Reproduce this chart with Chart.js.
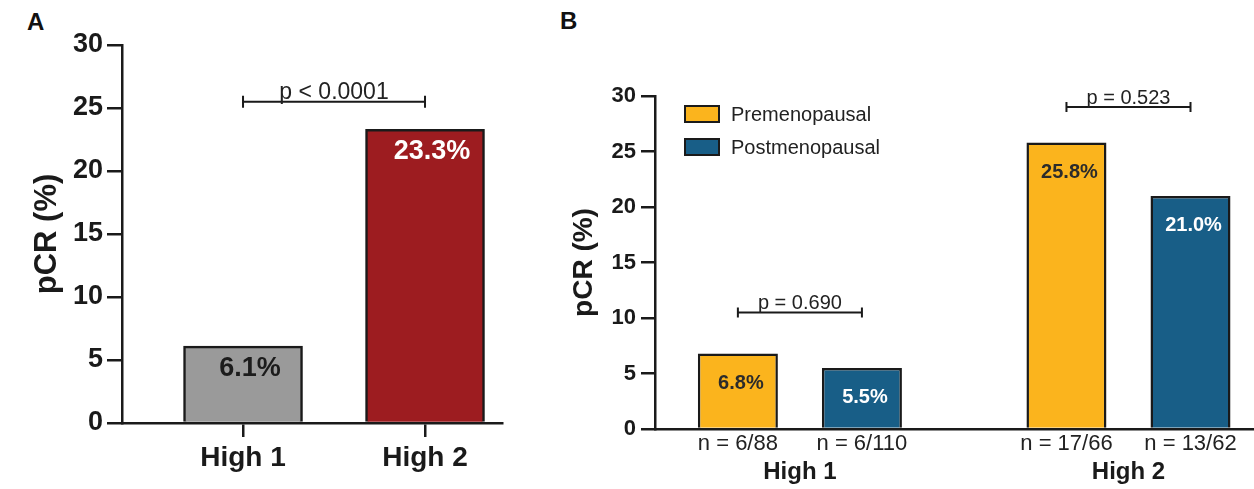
<!DOCTYPE html>
<html>
<head>
<meta charset="utf-8">
<script src="https://cdn.jsdelivr.net/npm/chart.js@4.4.1/dist/chart.umd.min.js"></script>
<style>
  body { margin: 0; background: #fff; width: 1254px; height: 489px; overflow: hidden; position: relative; font-family: "Liberation Sans", Arial, sans-serif; }
  .tag { position: absolute; font-weight: bold; font-size: 24px; line-height: 24px; color: #111; }
  canvas { position: absolute; top: 0; }
</style>
</head>
<body>
<div class="tag" style="left:27px;top:10px">A</div>
<div class="tag" style="left:560px;top:9px">B</div>
<canvas id="chartA" width="540" height="489" style="left:0"></canvas>
<canvas id="chartB" width="714" height="489" style="left:540px"></canvas>
<script>
// data
var groups = ['High 1', 'High 2'];
var pcrAll = [6.1, 23.3];
var pAll = ['p < 0.0001'];
var pAllLevel = [25.5];

var pcrPre = [6.8, 25.8];
var pcrPost = [5.5, 21.0];
var nPre = ['6/88', '17/66'];
var nPost = ['6/110', '13/62'];
var pMeno = ['p = 0.690', 'p = 0.523'];
var pMenoLevel = [10.5, 29];

var FONT = '"Liberation Sans", Arial, sans-serif';
var INK = '#1a1a1a';
Chart.defaults.font.family = FONT;
Chart.defaults.color = INK;

function points(arr) {
  return arr.map(function(v, i) { return {x: i + 1, y: v}; });
}

// value text inside the bars
function makeBarText(colors, font, dx, dy) {
  return {
    id: 'barText',
    afterDatasetsDraw: function(chart) {
      var ctx = chart.ctx;
      ctx.save();
      ctx.font = font;
      ctx.textAlign = 'center';
      ctx.textBaseline = 'middle';
      chart.data.datasets.forEach(function(ds, i) {
        chart.getDatasetMeta(i).data.forEach(function(bar, j) {
          ctx.fillStyle = colors[i][j];
          ctx.fillText(ds.data[j].y.toFixed(1) + '%', bar.x + dx, bar.y + dy);
        });
      });
      ctx.restore();
    }
  };
}

// p value brackets between two bars
function makeBrackets(pairs, texts, levels, font, cap) {
  return {
    id: 'brackets',
    afterDatasetsDraw: function(chart) {
      var ctx = chart.ctx;
      var ys = chart.scales.y;
      ctx.save();
      ctx.strokeStyle = INK;
      ctx.fillStyle = '#222';
      ctx.lineWidth = 2;
      ctx.font = font;
      ctx.textAlign = 'center';
      ctx.textBaseline = 'alphabetic';
      pairs.forEach(function(p, k) {
        var a = chart.getDatasetMeta(p[0][0]).data[p[0][1]];
        var b = chart.getDatasetMeta(p[1][0]).data[p[1][1]];
        var py = ys.getPixelForValue(levels[k]);
        ctx.beginPath();
        ctx.moveTo(a.x, py); ctx.lineTo(b.x, py);
        ctx.moveTo(a.x, py - cap); ctx.lineTo(a.x, py + cap);
        ctx.moveTo(b.x, py - cap); ctx.lineTo(b.x, py + cap);
        ctx.stroke();
        ctx.fillText(texts[k], (a.x + b.x) / 2, py - 3);
      });
      ctx.restore();
    }
  };
}

var nLabels = {
  id: 'nLabels',
  afterDraw: function(chart) {
    var ctx = chart.ctx;
    var ns = [nPre, nPost];
    ctx.save();
    ctx.font = '22px ' + FONT;
    ctx.fillStyle = '#222';
    ctx.textAlign = 'center';
    ctx.textBaseline = 'middle';
    chart.data.datasets.forEach(function(ds, i) {
      chart.getDatasetMeta(i).data.forEach(function(bar, j) {
        ctx.fillText('n = ' + ns[i][j], bar.x, chart.chartArea.bottom + 15);
      });
    });
    ctx.restore();
  }
};

var legendBox = {
  id: 'legendBox',
  afterDraw: function(chart) {
    var ctx = chart.ctx;
    var area = chart.chartArea;
    ctx.save();
    ctx.font = '20px ' + FONT;
    ctx.textBaseline = 'middle';
    ctx.textAlign = 'left';
    chart.data.datasets.forEach(function(ds, i) {
      var x = area.left + 30;
      var yc = area.top + 18 + i * 33;
      ctx.fillStyle = ds.backgroundColor;
      ctx.fillRect(x, yc - 8, 34, 16);
      ctx.lineWidth = 2;
      ctx.strokeStyle = INK;
      ctx.strokeRect(x, yc - 8, 34, 16);
      ctx.fillStyle = '#222';
      ctx.fillText(ds.label, x + 46, yc + 1);
    });
    ctx.restore();
  }
};

function groupTicks(s) {
  s.ticks = groups.map(function(g, i) { return {value: i + 1}; });
}

// panel A
new Chart(document.getElementById('chartA'), {
  type: 'bar',
  data: {
    datasets: [{
      data: points(pcrAll),
      backgroundColor: ['#9a9a9a', '#9d1c20'],
      borderColor: INK,
      borderWidth: 2.5,
      borderSkipped: 'start',
      barThickness: 119
    }]
  },
  options: {
    responsive: false,
    animation: false,
    layout: {padding: {left: 0, top: 45, right: 38, bottom: 0}},
    plugins: {legend: {display: false}, tooltip: {enabled: false}},
    scales: {
      x: {
        type: 'linear', min: 0.335, max: 2.423, offset: false, z: 1,
        afterBuildTicks: groupTicks,
        afterFit: function(s) { s.height = 66; },
        ticks: {
          callback: function(v) { return groups[v - 1]; },
          font: {size: 28, weight: 'bold'}, color: INK, padding: 4, autoSkip: false, maxRotation: 0
        },
        grid: {offset: false, drawOnChartArea: false, color: INK, lineWidth: 2.5, tickLength: 14},
        border: {color: INK, width: 2.5}
      },
      y: {
        min: 0, max: 30,
        afterFit: function(s) { s.width = 122; },
        ticks: {stepSize: 5, font: {size: 27, weight: 'bold'}, color: INK, padding: 4},
        grid: {drawOnChartArea: false, color: INK, lineWidth: 2.5, tickLength: 15},
        border: {color: INK, width: 2.5},
        title: {display: true, text: 'pCR (%)', font: {size: 31, weight: 'bold'}, color: INK, padding: {top: 29, bottom: 0}}
      }
    }
  },
  plugins: [
    makeBarText([['#1c1c1c', '#ffffff']], 'bold 27px ' + FONT, 7, 22),
    makeBrackets([[[0, 0], [0, 1]]], pAll, pAllLevel, '23px ' + FONT, 6)
  ]
});

// panel B
new Chart(document.getElementById('chartB'), {
  type: 'bar',
  data: {
    datasets: [
      {
        label: 'Premenopausal',
        data: points(pcrPre),
        backgroundColor: '#fbb41d',
        borderColor: INK, borderWidth: 2.5,
        barPercentage: 0.645, categoryPercentage: 0.755
      },
      {
        label: 'Postmenopausal',
        data: points(pcrPost),
        backgroundColor: '#185e87',
        borderColor: INK, borderWidth: 2.5,
        barPercentage: 0.645, categoryPercentage: 0.755
      }
    ]
  },
  options: {
    responsive: false,
    animation: false,
    layout: {padding: {left: 0, top: 96, right: 0, bottom: 0}},
    plugins: {legend: {display: false}, tooltip: {enabled: false}},
    scales: {
      x: {
        type: 'linear', min: 0.559, max: 2.382, offset: false, z: 1,
        afterBuildTicks: groupTicks,
        afterFit: function(s) { s.height = 60; },
        ticks: {
          callback: function(v) { return groups[v - 1]; },
          font: {size: 24, weight: 'bold'}, color: INK, padding: 29, autoSkip: false, maxRotation: 0
        },
        grid: {display: false, offset: false, drawTicks: false, tickLength: 0},
        border: {color: INK, width: 2.5}
      },
      y: {
        min: 0, max: 30,
        afterFit: function(s) { s.width = 115; },
        ticks: {stepSize: 5, font: {size: 22, weight: 'bold'}, color: INK, padding: 5},
        grid: {drawOnChartArea: false, color: INK, lineWidth: 2.5, tickLength: 14},
        border: {color: INK, width: 2.5},
        title: {display: true, text: 'pCR (%)', font: {size: 28, weight: 'bold'}, color: INK, padding: {top: 27, bottom: 0}}
      }
    }
  },
  plugins: [
    makeBarText([['#2b2b2b', '#2b2b2b'], ['#ffffff', '#ffffff']], 'bold 20px ' + FONT, 3, 30),
    makeBrackets([[[0, 0], [1, 0]], [[0, 1], [1, 1]]], pMeno, pMenoLevel, '20px ' + FONT, 5),
    nLabels,
    legendBox
  ]
});
</script>
</body>
</html>
